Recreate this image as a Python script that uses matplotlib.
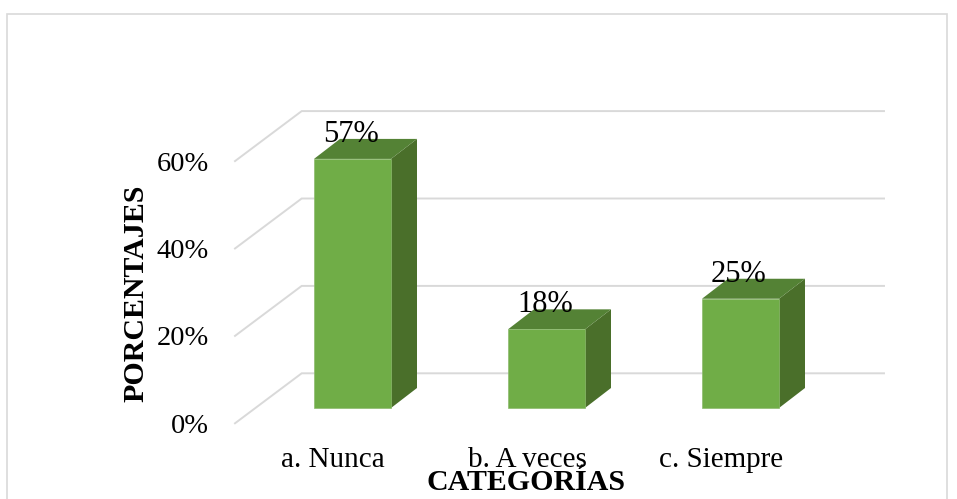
import matplotlib.pyplot as plt
from matplotlib.patches import Rectangle

plt.rcParams['font.family'] = ['Liberation Serif', 'DejaVu Serif']

# data
categories = ['a. Nunca', 'b. A veces', 'c. Siempre']
values = [57, 18, 25]
value_labels = ['57%', '18%', '25%']
grid_values = [0, 20, 40, 60]
grid_labels = ['0%', '20%', '40%', '60%']

W, H = 957, 499
x0_px, cat_px = 352.5, 194.0   # pixel x of first bar centre, spacing
y0_px, pct_px = 408.0, 4.37    # pixel y of 0% in the bar plane, pixels per 1%

fig = plt.figure(figsize=(W / 100, H / 100), dpi=100)
ax = fig.add_axes([0, 0, 1, 1])
ax.set_xlim(-x0_px / cat_px, (W - x0_px) / cat_px)
ax.set_ylim((y0_px - H) / pct_px, y0_px / pct_px)
ax.axis('off')

# chart frame
fig.add_artist(Rectangle((7 / W, -0.05), 940 / W, 1.05 - 14 / H, fill=False,
                         edgecolor='#D9D9D9', linewidth=1.2, transform=fig.transFigure))

# px offsets converted to data units
def dx(px):
    return px / cat_px

def dy(px):
    return px / pct_px

grid_color = '#D9D9D9'
bar_w = dx(77)
depth_x, depth_y = dx(26), dy(20)

# back wall gridlines and the diagonal side wall lines
for g, lab in zip(grid_values, grid_labels):
    xa = dx(235 - x0_px)
    xb = dx(301.7 - x0_px)
    xc = dx(884 - x0_px)
    ya = g + dy(y0_px - 423.3)
    yb = g + dy(y0_px - 373.3)
    ax.plot([xa, xb, xc], [ya, yb, yb], color=grid_color, lw=1.4, zorder=1,
            solid_joinstyle='miter')
    ax.text(dx(208.5 - x0_px), ya - dy(3), lab, ha='right', va='center', fontsize=20.5, color='black')

# 3d bars
for i, v in enumerate(values):
    left, right = i - bar_w / 2, i + bar_w / 2
    ax.fill([right, right + depth_x, right + depth_x, right],
            [0, depth_y, v + depth_y, v], color='#4A6F2A', lw=0, zorder=2)
    ax.fill([left, left + depth_x, right + depth_x, right],
            [v, v + depth_y, v + depth_y, v], color='#548235', lw=0, zorder=2)
    ax.bar(i, v, width=bar_w, color='#70AD47', edgecolor='#8DBB6E', linewidth=0.5, zorder=3)
    ax.text(i - dx(1.5), v + dy(17), value_labels[i], ha='center', va='baseline',
            fontsize=22, color='black', zorder=4)

# category labels sit left of the bars
for i, c in enumerate(categories):
    ax.text(i - dx(19.5), dy(y0_px - 467), c, ha='center', va='baseline', fontsize=21, color='black')

ax.text(dx(526 - x0_px), dy(y0_px - 490.5), 'CATEGORÍAS', ha='center', va='baseline',
        fontsize=21.5, fontweight='bold', color='black')
ax.text(dx(136 - x0_px), dy(y0_px - 293.5), 'PORCENTAJES', rotation=90, ha='center', va='center',
        fontsize=21.5, fontweight='bold', color='black')

fig.savefig('out.png', dpi=100)
